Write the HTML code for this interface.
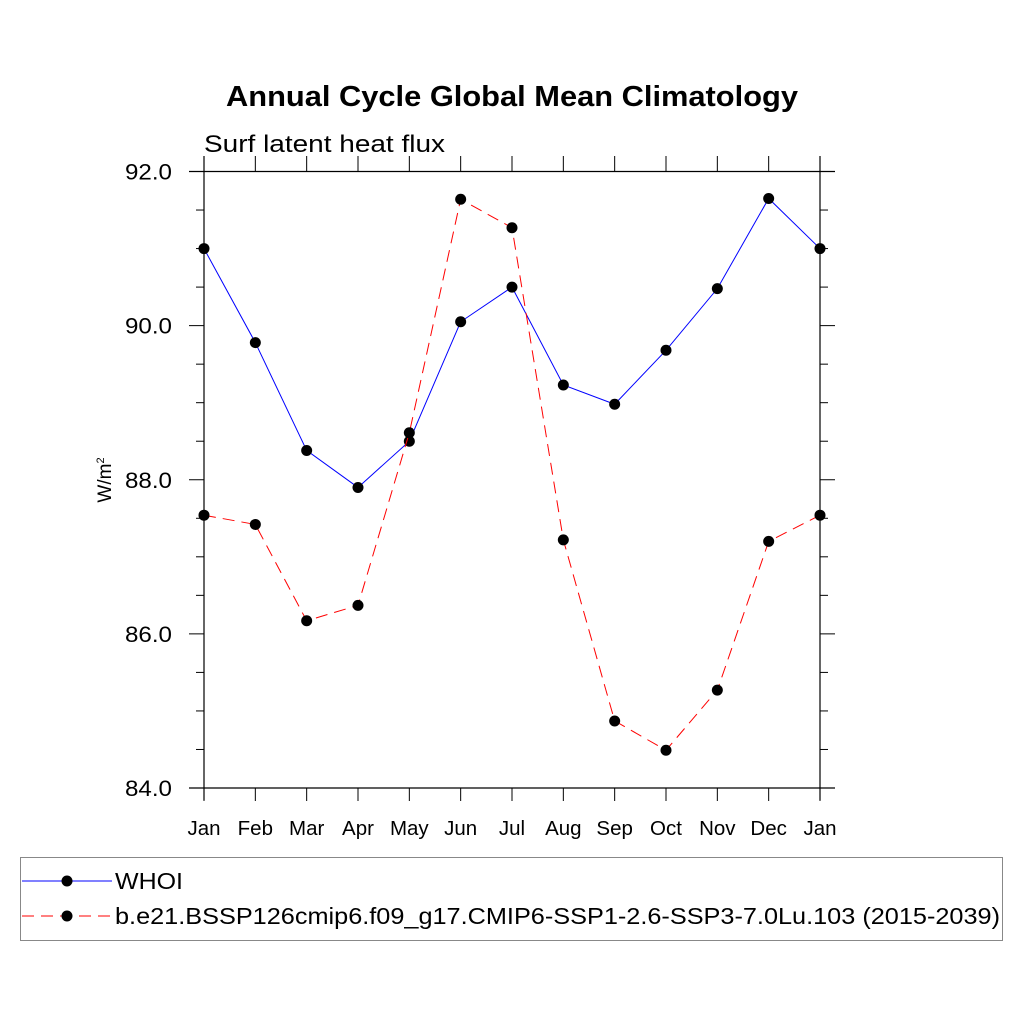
<!DOCTYPE html>
<html><head><meta charset="utf-8"><style>
body{margin:0;background:#fff}
svg text{font-family:"Liberation Sans",sans-serif;fill:#000}
</style></head><body>
<svg id="c" width="1024" height="1024" viewBox="0 0 1024 1024">
<text x="226" y="106" font-size="29" font-weight="bold" textLength="572" lengthAdjust="spacingAndGlyphs">Annual Cycle Global Mean Climatology</text>
<text x="204" y="152" font-size="24" textLength="241" lengthAdjust="spacingAndGlyphs">Surf latent heat flux</text>
<text transform="translate(111,480) rotate(-90)" font-size="19" text-anchor="middle">W/m<tspan font-size="11" dy="-7">2</tspan></text>
<g id="axes"></g>
<g id="series"></g>
<rect x="20.5" y="857.5" width="982" height="83" fill="none" stroke="#888" stroke-width="1"/>
<g>
<line x1="22" y1="881" x2="112" y2="881" stroke="#00f" stroke-width="1"/>
<circle cx="67" cy="881" r="5.5" fill="#000"/>
<text x="115" y="889" font-size="23" textLength="68" lengthAdjust="spacingAndGlyphs">WHOI</text></g>
<g>
<line x1="22" y1="916" x2="112" y2="916" stroke="#f00" stroke-width="1" stroke-dasharray="12,7"/>
<circle cx="67" cy="916" r="5.5" fill="#000"/>
<text x="115" y="924" font-size="23" textLength="885" lengthAdjust="spacingAndGlyphs">b.e21.BSSP126cmip6.f09_g17.CMIP6-SSP1-2.6-SSP3-7.0Lu.103 (2015-2039)</text></g>
</svg>
<script>
const months=["Jan","Feb","Mar","Apr","May","Jun","Jul","Aug","Sep","Oct","Nov","Dec","Jan"];
const whoi=[91.0,89.78,88.38,87.9,88.5,90.05,90.5,89.23,88.98,89.68,90.48,91.65,91.0];
const model=[87.54,87.42,86.17,86.37,88.61,91.64,91.27,87.22,84.87,84.49,85.27,87.2,87.54];
const yTicks=[84,86,88,90,92];
const yTickLabels=["84.0","86.0","88.0","90.0","92.0"];
const NS="http://www.w3.org/2000/svg";
const X0=204,X1=820,Y0=788,Y1=171.5,YMIN=84,YMAX=92;
function xs(i){return X0+(X1-X0)*i/(months.length-1);}
function ys(v){return Y0+(Y1-Y0)*(v-YMIN)/(YMAX-YMIN);}
function mk(tag,attrs,parent){const e=document.createElementNS(NS,tag);for(const k in attrs)e.setAttribute(k,attrs[k]);parent.appendChild(e);return e;}
const ax=document.getElementById('axes');
const fr={stroke:"#000","stroke-width":1.2};
let l;
l=mk('line',Object.assign({x1:189,y1:Y1,x2:835,y2:Y1},fr),ax);


l=mk('line',Object.assign({x1:189,y1:Y0,x2:835,y2:Y0},fr),ax);


l=mk('line',Object.assign({x1:X0,y1:156,x2:X0,y2:800},fr),ax);


l=mk('line',Object.assign({x1:X1,y1:156,x2:X1,y2:800},fr),ax);


months.forEach((m,i)=>{
  const x=xs(i);
  const t1=mk('line',{x1:x,y1:Y0,x2:x,y2:801,stroke:"#000","stroke-width":1},ax);
  
  
  const t2=mk('line',{x1:x,y1:Y1,x2:x,y2:156,stroke:"#000","stroke-width":1},ax);
  
  
  const t=mk('text',{x:x,y:835,"font-size":20.5,"text-anchor":"middle"},ax);
  t.textContent=m;
  
  
});
for(let v=YMIN;v<=YMAX+1e-6;v+=0.5){
  const y=ys(v);const major=Math.abs(v-Math.round(v/2)*2)<1e-6;
  const len=major?15:8;
  const a=mk('line',{x1:X0,y1:y,x2:X0-len,y2:y,stroke:"#000","stroke-width":1},ax);
  
  
  const b=mk('line',{x1:X1,y1:y,x2:X1+len,y2:y,stroke:"#000","stroke-width":1},ax);
  
  
}
yTicks.forEach((v,i)=>{
  const t=mk('text',{x:125,y:ys(v)+8,"font-size":22,textLength:47,lengthAdjust:"spacingAndGlyphs"},ax);
  t.textContent=yTickLabels[i];
  
  
});
const sg=document.getElementById('series');
function draw(vals,color,dash,name){
  const pts=vals.map((v,i)=>xs(i)+","+ys(v)).join(" ");
  const pl=mk('polyline',{points:pts,fill:"none",stroke:color,"stroke-width":1,"stroke-dasharray":dash},sg);
  
  
  vals.forEach((v,i)=>{
    const c=mk('circle',{cx:xs(i),cy:ys(v),r:5.5,fill:"#000"},sg);
    
    
  });
}
draw(whoi,"#00f","none","whoi");
draw(model,"#f00","12,7","model");
</script>
</body></html>
